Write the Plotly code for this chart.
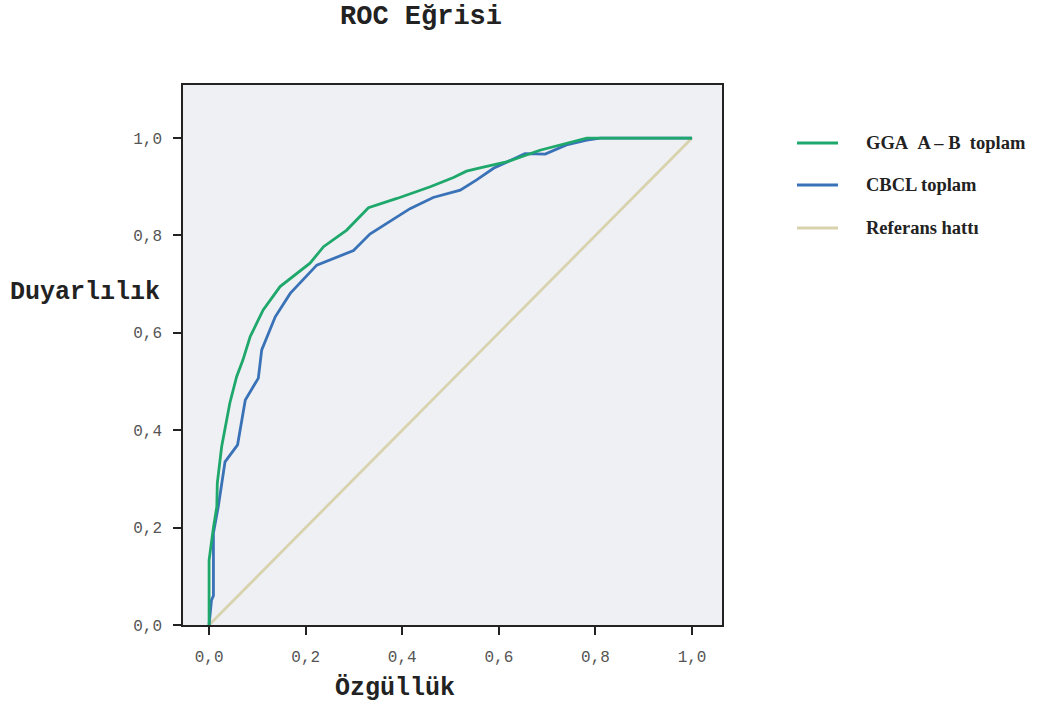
import plotly.graph_objects as go

# ---- data ----
gga_x = [0.0, 0.0, 0.009, 0.016, 0.017, 0.026, 0.043, 0.057, 0.070, 0.085, 0.112, 0.147, 0.209, 0.237,
         0.285, 0.330, 0.389, 0.458, 0.506, 0.533, 0.561, 0.616, 0.685, 0.782, 1.0]
gga_y = [0.0, 0.133, 0.200, 0.243, 0.291, 0.366, 0.456, 0.510, 0.544, 0.592, 0.647, 0.695, 0.743, 0.777,
         0.811, 0.857, 0.876, 0.900, 0.919, 0.932, 0.939, 0.951, 0.975, 1.0, 1.0]

cbcl_x = [0.0, 0.005, 0.009, 0.009, 0.019, 0.033, 0.059, 0.075, 0.102, 0.109, 0.137, 0.168, 0.223,
          0.299, 0.333, 0.416, 0.464, 0.520, 0.554, 0.589, 0.654, 0.696, 0.740, 0.782, 0.810, 1.0]
cbcl_y = [0.0, 0.051, 0.060, 0.189, 0.243, 0.335, 0.370, 0.462, 0.507, 0.565, 0.633, 0.681, 0.739,
          0.769, 0.803, 0.855, 0.878, 0.893, 0.914, 0.938, 0.968, 0.967, 0.986, 0.996, 1.0, 1.0]

ref_x = [0.0, 1.0]
ref_y = [0.0, 1.0]

series_names = ["GGA\u00a0\u00a0A – B\u00a0\u00a0toplam", "CBCL toplam", "Referans hattı"]
series_colors = ["#1fa86c", "#3a72b8", "#d8d3ae"]

tick_vals = [0.0, 0.2, 0.4, 0.6, 0.8, 1.0]
tick_text = ["0,0", "0,2", "0,4", "0,6", "0,8", "1,0"]

title_text = "ROC Eğrisi"
x_label = "Özgüllük"
y_label = "Duyarlılık"

fig = go.Figure()
order = [2, 1, 0]
all_x = [gga_x, cbcl_x, ref_x]
all_y = [gga_y, cbcl_y, ref_y]
for i in order:
    fig.add_trace(go.Scatter(x=all_x[i], y=all_y[i], mode="lines", name=series_names[i],
                             line=dict(color=series_colors[i], width=2.8), showlegend=False))

mono = "Liberation Mono, Courier New, monospace"
serif = "Liberation Serif, Times New Roman, serif"

axis_common = dict(
    showgrid=False, zeroline=False, showline=True, mirror=True,
    linecolor="#222", linewidth=1.5, ticks="outside", ticklen=8, tickwidth=1.5,
    tickcolor="#222", tickvals=tick_vals, ticktext=tick_text,
    tickfont=dict(family=mono, size=16, color="#555"),
)

fig.update_layout(
    width=1037, height=706,
    margin=dict(l=183, r=1037 - 722, t=85, b=706 - 625),
    paper_bgcolor="white", plot_bgcolor="#eff0f3",
    xaxis=dict(range=[-0.054, 1.062], ticklabelstandoff=8, **axis_common),
    yaxis=dict(range=[0.0, 1.109], ticklabelstandoff=8, **axis_common),
    showlegend=False,
)

# title and axis labels
fig.add_annotation(text="<b>" + title_text + "</b>", xref="x", yref="paper", x=0.439, y=1.126,
                   showarrow=False, xanchor="center", yanchor="middle",
                   font=dict(family=mono, size=27, color="#222"))
fig.add_annotation(text="<b>" + x_label + "</b>", xref="x", yref="paper", x=0.385, y=-0.117,
                   showarrow=False, xanchor="center", yanchor="middle",
                   font=dict(family=mono, size=25, color="#222"))
fig.add_annotation(text="<b>" + y_label + "</b>", xref="paper", yref="y", x=-0.325, y=0.682,
                   showarrow=False, xanchor="left", yanchor="middle",
                   font=dict(family=mono, size=25, color="#222"))

# legend (drawn manually to match layout)
leg_y_px = [143, 185, 228]
for i, ypx in enumerate(leg_y_px):
    yp = (625 - ypx) / 540
    fig.add_shape(type="line", xref="paper", yref="paper",
                  x0=(797 - 183) / 539, x1=(838 - 183) / 539, y0=yp, y1=yp,
                  line=dict(color=series_colors[i], width=2.8))
    fig.add_annotation(text="<b>" + series_names[i] + "</b>", xref="paper", yref="paper",
                       x=(864 - 183) / 539, y=yp, xanchor="left", yanchor="middle",
                       showarrow=False, font=dict(family=serif, size=18.5, color="#222"))

fig.write_html("out.html", config={"displayModeBar": False},
               post_script="document.body.style.margin='0px';document.body.style.overflow='hidden';")
